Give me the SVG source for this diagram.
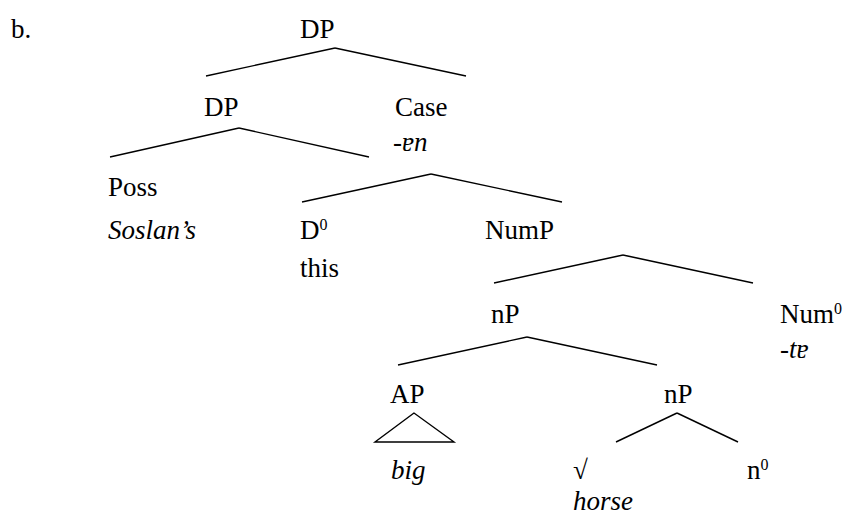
<svg xmlns="http://www.w3.org/2000/svg" width="851" height="518" viewBox="0 0 851 518">
<style>
text{font-family:"Liberation Serif","DejaVu Serif",serif;font-size:27px;fill:#000}
.i{font-style:italic}
.s{font-size:16px}
.e line,.e polygon{stroke:#000;stroke-width:1.4;fill:none}
</style>
<rect width="851" height="518" fill="#fff"/>
<text x="11" y="38">b.</text>
<g class="e" id="connectors">
<line x1="335" y1="48" x2="206" y2="76"/>
<line x1="335" y1="48" x2="466" y2="76"/>
<line x1="239" y1="128" x2="110" y2="157"/>
<line x1="239" y1="128" x2="369" y2="157"/>
<line x1="431" y1="174" x2="302" y2="202"/>
<line x1="431" y1="174" x2="562" y2="202"/>
<line x1="623" y1="255" x2="494" y2="283"/>
<line x1="623" y1="255" x2="753" y2="283"/>
<line x1="527" y1="337" x2="398" y2="365"/>
<line x1="527" y1="337" x2="657" y2="365"/>
<polygon points="414,413 375,442 454,442"/>
<line x1="677" y1="413" x2="616" y2="442"/>
<line x1="677" y1="413" x2="738" y2="442"/>
</g>
<g id="dp-root"><text x="300" y="38">DP</text></g>
<g id="dp-poss"><text x="204" y="116">DP</text></g>
<g id="case"><text x="395" y="116">Case</text><text x="393" y="151" class="i">-ɐn</text></g>
<g id="poss"><text x="108" y="196">Poss</text><text x="108" y="239" class="i">Soslan’s</text></g>
<g id="d0"><text x="300" y="239">D<tspan class="s" dy="-9">0</tspan></text><text x="300" y="277">this</text></g>
<g id="nump"><text x="485" y="239">NumP</text></g>
<g id="np1"><text x="491" y="323">nP</text></g>
<g id="num0"><text x="780" y="323">Num<tspan class="s" dy="-9">0</tspan></text><text x="780" y="358" class="i">-tɐ</text></g>
<g id="ap"><text x="390" y="403">AP</text><text x="391" y="479" class="i">big</text></g>
<g id="np2"><text x="664" y="403">nP</text></g>
<g id="root"><text x="573" y="479">√</text><text x="573" y="510" class="i">horse</text></g>
<g id="n0"><text x="747" y="479">n<tspan class="s" dy="-9">0</tspan></text></g>
</svg>
